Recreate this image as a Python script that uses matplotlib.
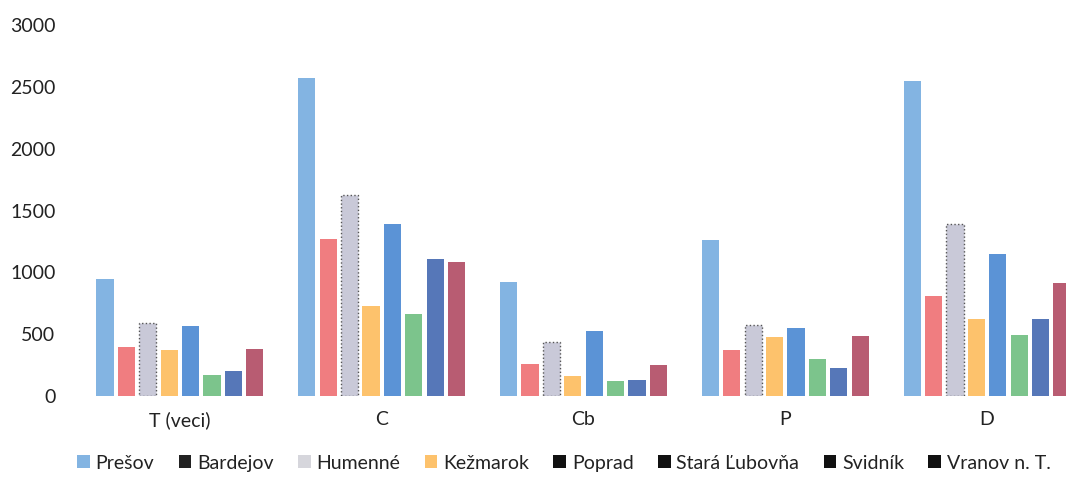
import matplotlib.pyplot as plt
from matplotlib.patches import Patch
import numpy as np

plt.rcParams['font.family'] = ['Lato', 'DejaVu Sans']

# categories and series
categories = ['T (veci)', 'C', 'Cb', 'P', 'D']
districts = ['Prešov', 'Bardejov', 'Humenné', 'Kežmarok', 'Poprad',
             'Stará Ľubovňa', 'Svidník', 'Vranov n. T.']

presov = [950, 2570, 925, 1260, 2550]
bardejov = [400, 1270, 258, 370, 805]
humenne = [592, 1625, 440, 574, 1390]
kezmarok = [374, 725, 165, 475, 620]
poprad = [570, 1390, 527, 547, 1150]
stara_lubovna = [170, 665, 125, 302, 497]
svidnik = [203, 1105, 129, 228, 620]
vranov = [380, 1085, 247, 486, 910]

values = [presov, bardejov, humenne, kezmarok, poprad,
          stara_lubovna, svidnik, vranov]

colors = ['#83b4e2', '#f07d80', '#c9c9d8', '#fdc26c',
          '#5b93d6', '#7cc48c', '#5677b8', '#b85c72']
legend_colors = ['#83b4e2', '#222222', '#d6d6dc', '#fdc26c',
                 '#111111', '#111111', '#111111', '#111111']

fig = plt.figure(figsize=(10.66, 4.88), dpi=100)
# axes runs past the right edge, as in the cropped scan
ax = fig.add_axes([79 / 1066, 92 / 488, 1009 / 1066, 371 / 488])

x = np.arange(len(categories))
pitch = 0.106
width = 0.085
for j, (vals, col) in enumerate(zip(values, colors)):
    kw = {}
    if j == 2:
        kw = dict(edgecolor='#555555', linewidth=1.0, linestyle=':')
    ax.bar(x + (j - 3.5) * pitch, vals, width, color=col, **kw)

ax.set_xlim(-0.5, 4.5)
ax.set_ylim(0, 3000)
ax.set_yticks(range(0, 3001, 500))
ax.set_xticks(x)
ax.set_xticklabels(categories)
ax.tick_params(axis='y', length=0, pad=17, labelsize=14, labelcolor='#222222')
ax.tick_params(axis='x', length=0, pad=11, labelsize=14, labelcolor='#222222')
for s in ax.spines.values():
    s.set_visible(False)

handles = [Patch(facecolor=c, edgecolor='none') for c in legend_colors]
fig.legend(handles, districts, loc='center', bbox_to_anchor=(0.529, 0.051),
           ncol=8, frameon=False, fontsize=14, handlelength=0.65,
           handleheight=0.65, handletextpad=0.3, columnspacing=1.25,
           labelcolor='#222222')

fig.savefig('out.png', dpi=100)
